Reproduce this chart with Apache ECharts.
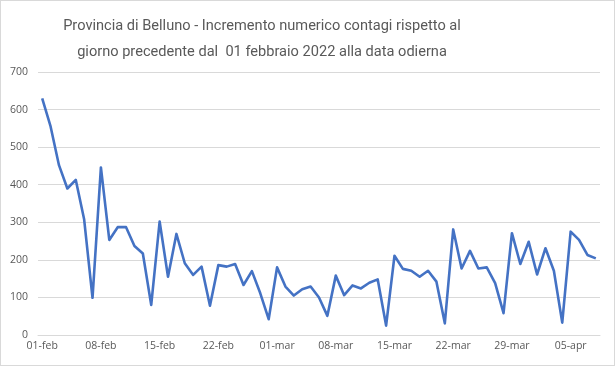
<!DOCTYPE html>
<html><head><meta charset="utf-8">
<script src="https://cdn.jsdelivr.net/npm/echarts@6/dist/echarts.min.js"></script>
<style>html,body{margin:0;padding:0;background:#fff}#c{width:613px;height:364px;border:1px solid #d9d9d9}</style>
</head><body><div id="c"></div>
<script>
const categories = [
"01-feb","02-feb","03-feb","04-feb","05-feb","06-feb","07-feb","08-feb","09-feb","10-feb","11-feb","12-feb","13-feb","14-feb",
"15-feb","16-feb","17-feb","18-feb","19-feb","20-feb","21-feb","22-feb","23-feb","24-feb","25-feb","26-feb","27-feb","28-feb",
"01-mar","02-mar","03-mar","04-mar","05-mar","06-mar","07-mar","08-mar","09-mar","10-mar","11-mar","12-mar","13-mar","14-mar",
"15-mar","16-mar","17-mar","18-mar","19-mar","20-mar","21-mar","22-mar","23-mar","24-mar","25-mar","26-mar","27-mar","28-mar",
"29-mar","30-mar","31-mar","01-apr","02-apr","03-apr","04-apr","05-apr","06-apr","07-apr","08-apr"];
const values = [
630,555,452,390,413,308,99,446,253,287,287,237,217,80,
302,155,269,191,160,182,78,186,182,189,133,170,111,42,
180,129,105,122,129,100,51,158,106,132,124,139,148,25,
211,176,171,155,171,142,31,281,177,224,177,180,138,58,
271,189,248,161,231,171,33,275,253,213,204];
const titleText = "Provincia di Belluno - Incremento numerico contagi rispetto al\ngiorno precedente dal  01 febbraio 2022 alla data odierna";

const chart = echarts.init(document.getElementById('c'), null, {renderer:'canvas'});
chart.setOption({
  animation:false,
  title:{text:titleText,left:256,textAlign:'center',top:7,textStyle:{fontFamily:'Roboto',fontSize:14.6,fontWeight:'normal',color:'#595959',lineHeight:26}},
  grid:{left:37,right:14,top:71,bottom:30},
  xAxis:{type:'category',data:categories,boundaryGap:true,
    axisLine:{lineStyle:{color:'#d9d9d9'}},
    axisTick:{interval:6,length:4,lineStyle:{color:'#d9d9d9'}},
    axisLabel:{interval:6,color:'#595959',fontFamily:'Open Sans',fontSize:10.5,margin:6}},
  yAxis:{type:'value',min:0,max:700,interval:100,
    axisLine:{show:false},axisTick:{show:false},
    splitLine:{lineStyle:{color:'#d9d9d9'}},
    axisLabel:{color:'#595959',fontFamily:'Open Sans',fontSize:10.5,margin:10}},
  series:[{type:'line',data:values,symbol:'none',lineStyle:{color:'#4472C4',width:2.6,join:'round'}}]
});
</script></body></html>
